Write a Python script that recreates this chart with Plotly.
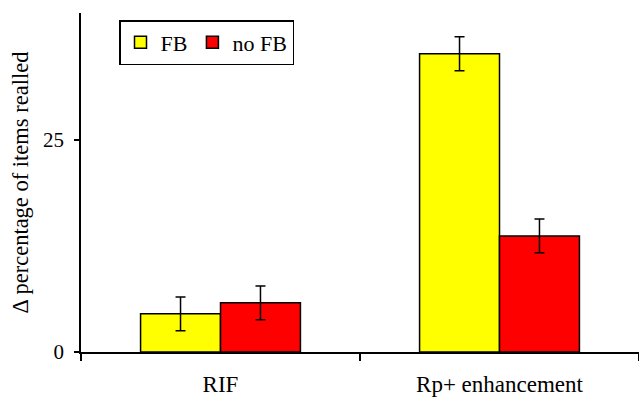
import plotly.graph_objects as go

categories = ["RIF", "Rp+ enhancement"]
fb_values = [4.5, 35.2]
fb_errors = [2.0, 2.0]
nofb_values = [5.8, 13.7]
nofb_errors = [2.0, 2.0]
y_tick_vals = [0, 25]
y_tick_text = ["0", "25"]

FONT = "Liberation Serif"

fig = go.Figure()
fig.add_trace(go.Bar(
    name="FB", x=categories, y=fb_values,
    marker=dict(color="#ffff00", line=dict(color="black", width=1.5)),
    error_y=dict(type="data", array=fb_errors, color="black", thickness=1.5, width=5),
))
fig.add_trace(go.Bar(
    name="no FB", x=categories, y=nofb_values,
    marker=dict(color="#ff0000", line=dict(color="black", width=1.5)),
    error_y=dict(type="data", array=nofb_errors, color="black", thickness=1.5, width=5),
))

fig.update_layout(
    width=639, height=400,
    margin=dict(l=81, r=0, t=13, b=48, autoexpand=False),
    barmode="group", bargap=0.427, bargroupgap=0,
    plot_bgcolor="white", paper_bgcolor="white",
    font=dict(family=FONT, size=23, color="black"),
    showlegend=True,
    legend=dict(
        orientation="h", x=(119 - 81) / 558, y=1 - (20 - 13) / 339,
        xanchor="left", yanchor="top",
        bordercolor="black", borderwidth=1.5, bgcolor="white",
        font=dict(family=FONT, size=22), itemwidth=30,
        tracegroupgap=0,
    ),
    xaxis=dict(
        showline=True, linecolor="black", linewidth=1.5,
        ticks="outside", ticklen=7, tickwidth=1.5, tickcolor="black",
        tickson="boundaries", showgrid=False, zeroline=False,
        ticklabelstandoff=11, automargin=False,
        tickfont=dict(family=FONT, size=23),
    ),
    yaxis=dict(
        range=[0, 40], showline=True, linecolor="black", linewidth=1.5,
        ticks="outside", ticklen=5, tickwidth=1.5, tickcolor="black",
        tickvals=y_tick_vals, ticktext=y_tick_text,
        showgrid=False, zeroline=False, ticklabelstandoff=6,
        automargin=False,
        tickfont=dict(family=FONT, size=21),
        title=dict(text="Δ percentage of items realled", standoff=8,
                   font=dict(family=FONT, size=22.5)),
    ),
)

fig.write_html(
    "out.html",
    config={"displayModeBar": False},
    post_script="document.body.style.margin='0';document.body.style.padding='0';",
)
